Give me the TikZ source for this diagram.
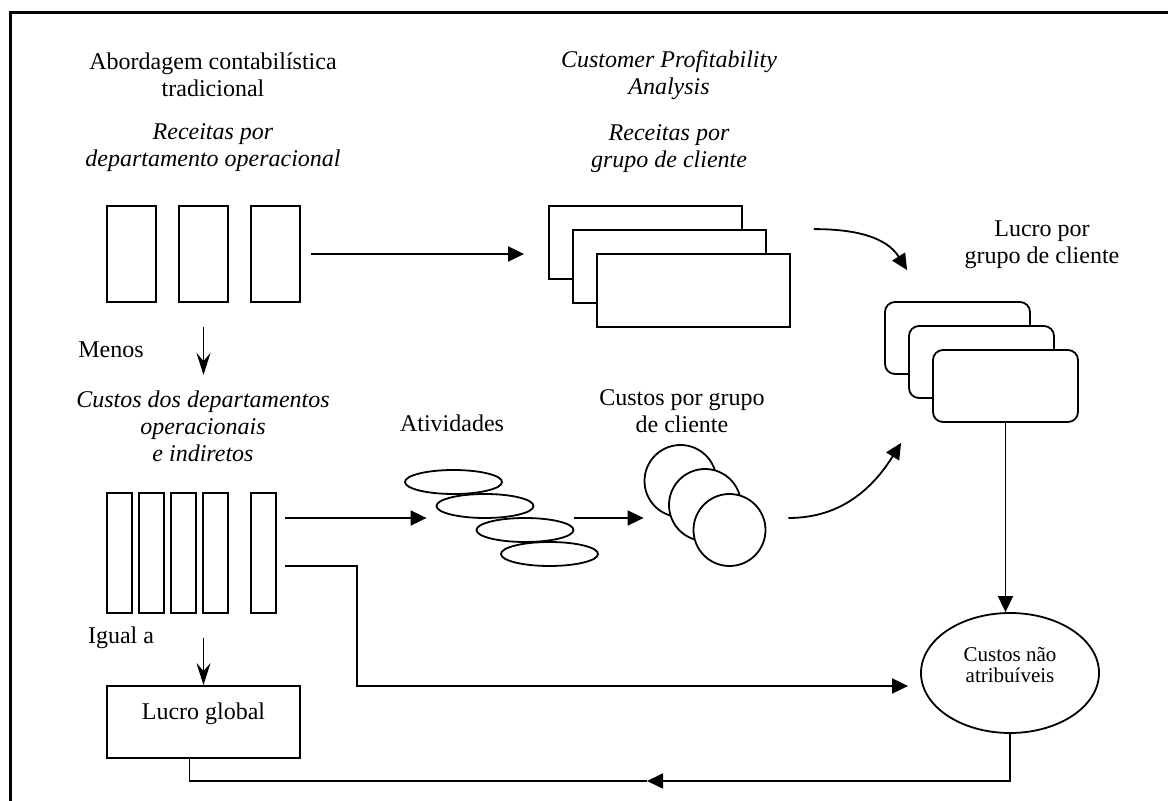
\documentclass[tikz,border=0pt]{standalone}
\usepackage{fontspec}
\setmainfont{Liberation Serif}
\usetikzlibrary{arrows.meta,shapes.geometric}

\begin{document}
\begin{tikzpicture}[x=0.5pt,y=0.5pt,line width=0.9pt,
  txt/.style={align=center,font=\fontsize{12}{13.5}\selectfont},
  itxt/.style={align=center,font=\fontsize{12}{13.5}\selectfont\itshape},
  caixa/.style={draw,fill=white,inner sep=0pt},
  seta/.style={-{Triangle[length=8pt,width=7.5pt]}},
  lanca/.style={-{Stealth[length=11pt,width=7pt,inset=4pt]}}]
\useasboundingbox (0,0) rectangle (1168,-801);
\draw[line width=1.5pt] (10,-801) -- (10,-13) -- (1168,-13);

% textos
\node[txt] (abord) at (213,-75) {Abordagem contabilística\\tradicional};
\node[itxt] (recdep) at (213,-148) {Receitas por\\departamento operacional};
\node[itxt] (cpa) at (669,-75) {Customer Profitability\\Analysis};
\node[itxt] (recgrp) at (669,-149) {Receitas por\\grupo de cliente};
\node[txt] (lucrotit) at (1042,-245) {Lucro por\\grupo de cliente};
\node[txt] (menos) at (111,-350) {Menos};
\node[itxt] (custdep) at (203,-426) {Custos dos departamentos\\operacionais\\ e indiretos};
\node[txt] (ativ) at (452,-423) {Atividades};
\node[txt] (custgrp) at (682,-411) {Custos por grupo\\de cliente};
\node[txt] (igual) at (121,-638) {Igual a};

% receitas por departamento
\foreach \i/\x in {1/131.5,2/203.5,3/275.5}
  \node[caixa,minimum width=24.5pt,minimum height=48pt] (rd\i) at (\x,-254) {};

% receitas por grupo de cliente
\foreach \i/\x/\y in {1/645.5/242.5,2/669.5/266.5,3/693.5/290.5}
  \node[caixa,minimum width=96.5pt,minimum height=36.5pt] (rg\i) at (\x,-\y) {};

% lucro por grupo de cliente
\foreach \i/\x/\y in {1/957.5/338,2/981.5/362,3/1005.5/386}
  \node[caixa,rounded corners=5pt,minimum width=72.5pt,minimum height=36pt] (lg\i) at (\x,-\y) {};

% custos dos departamentos
\foreach \i/\x in {1/119.5,2/151.5,3/183.5,4/215.5,5/263.5}
  \node[caixa,minimum width=12.5pt,minimum height=60pt] (cd\i) at (\x,-553) {};

% atividades
\foreach \i/\x/\y in {1/453.5/482,2/485/506,3/525/530,4/549.5/554}
  \node[caixa,ellipse,minimum width=48.5pt,minimum height=12pt] (at\i) at (\x,-\y) {};

% custos por grupo
\foreach \i/\x/\y in {1/680.5/481,2/705/505,3/729.5/530}
  \node[caixa,circle,minimum size=36pt] (cg\i) at (\x,-\y) {};

\node[caixa,ellipse,minimum width=89pt,minimum height=60pt,align=center,text depth=8pt,
  font=\fontsize{10.5}{10.5}\selectfont] (naoatr) at (1010,-673) {Custos não\\atribuíveis};
\node[caixa,minimum width=96.5pt,text height=17pt,text depth=19pt,
  font=\fontsize{12}{13.5}\selectfont] (global) at (203.5,-722) {Lucro global};

% ligacoes
\draw[seta,shorten <=5pt,shorten >=12pt] (rd3.east) -- (rd3.east -| rg1.west);
\draw[seta] ([xshift=11.5pt,yshift=12pt]rg3.north east) to[out=0,in=122] ([xshift=11.5pt,yshift=15.5pt]lg1.north west);
\draw[seta] ([xshift=11pt,yshift=6pt]cg3.east) to[out=0,in=238] ([xshift=-15.5pt,yshift=-10pt]lg3.south west);
\draw[seta] (lg3.south) -- (lg3.south |- naoatr.north);
\draw[lanca,shorten <=12pt,shorten >=4pt] (rd2.south) -- (rd2.south |- custdep.north);
\draw[seta,shorten <=4pt,shorten >=4.5pt] ([yshift=17.5pt]cd5.east) -- ([yshift=17.5pt]cd5.east -| at2.west);
\draw[seta] ([yshift=6pt]at3.east) -- ([yshift=6pt]at3.east -| cg1.west);
\coordinate (dobra) at (357,-686);
\draw[seta,shorten <=4pt,shorten >=6pt] ([yshift=-6.5pt]cd5.east) -| (dobra) -- (dobra -| naoatr.west);
\draw[lanca,shorten <=12pt] (global.north |- cd4.south) -- (global.north);
\coordinate (volta) at (647,-781);
\draw[seta] (naoatr.south) |- (volta);
\draw ([xshift=-7pt]global.south) |- (volta);
\end{tikzpicture}
\end{document}
